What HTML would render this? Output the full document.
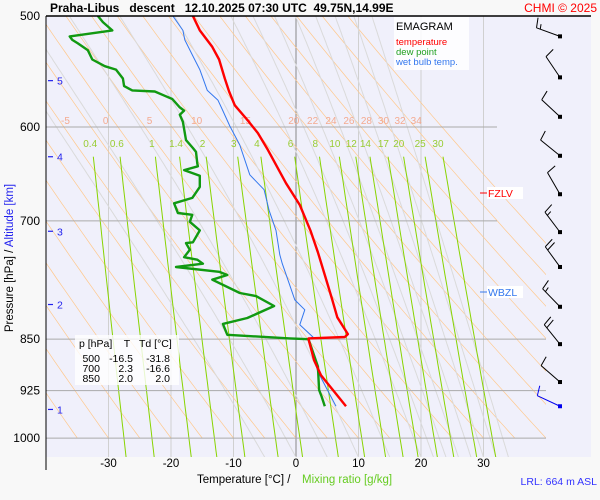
<!DOCTYPE html>
<html><head><meta charset="utf-8"><style>
html,body{margin:0;padding:0;background:#f8f8f8;}
svg{display:block;font-family:"Liberation Sans",sans-serif;}
</style></head><body>
<svg id="chart" width="600" height="500" viewBox="0 0 600 500" xmlns="http://www.w3.org/2000/svg">
<rect x="0" y="0" width="600" height="500" fill="#f8f8f8"/>
<rect x="46" y="16" width="545" height="441" fill="#f0f0fb"/>
<defs><clipPath id="clip"><rect x="46" y="16" width="500" height="441"/></clipPath></defs>
<g id="grid" clip-path="url(#clip)"></g>
<g id="isobars"></g>
<g id="labels"></g>
<g id="series" clip-path="url(#clip)"></g>
<g id="barbs"></g>
<g id="axes"></g>
<line x1="46" y1="16" x2="591" y2="16" stroke="#000" stroke-width="1.5"/>
<line x1="46" y1="16" x2="46" y2="470" stroke="#000" stroke-width="1"/>
<text x="50" y="12" font-size="12" font-weight="bold" fill="#000" xml:space="preserve">Praha-Libus   descent   12.10.2025 07:30 UTC  49.75N,14.99E</text>
<text x="597" y="12" font-size="12" fill="#ff0000" text-anchor="end">CHMI © 2025</text>
<rect x="394" y="17" width="75" height="53" fill="#ffffff" opacity="0.85"/>
<text x="396" y="30" font-size="11" fill="#000">EMAGRAM</text>
<text x="396" y="45" font-size="9.5" fill="#ff0000">temperature</text>
<text x="396" y="55" font-size="9.5" fill="#22a022">dew point</text>
<text x="396" y="65" font-size="9.5" fill="#3377ee">wet bulb temp.</text>
<rect x="75" y="335" width="104" height="50" fill="#ffffff" opacity="0.8"/>
<g font-size="10.5" fill="#000">
<text x="79" y="347">p [hPa]</text><text x="127" y="347" text-anchor="middle">T</text><text x="139" y="347">Td [°C]</text>
<text x="100" y="362" text-anchor="end">500</text><text x="133" y="362" text-anchor="end">-16.5</text><text x="170" y="362" text-anchor="end">-31.8</text>
<text x="100" y="372" text-anchor="end">700</text><text x="133" y="372" text-anchor="end">2.3</text><text x="170" y="372" text-anchor="end">-16.6</text>
<text x="100" y="382" text-anchor="end">850</text><text x="133" y="382" text-anchor="end">2.0</text><text x="170" y="382" text-anchor="end">2.0</text>
</g>
<line x1="480" y1="193" x2="487" y2="193" stroke="#ff0000"/>
<rect x="487" y="187" width="36" height="12" fill="#fff"/>
<text x="488" y="197" font-size="10.5" fill="#ff0000">FZLV</text>
<line x1="480" y1="292" x2="487" y2="292" stroke="#3377ee"/>
<rect x="487" y="286" width="36" height="12" fill="#fff"/>
<text x="488" y="296" font-size="10.5" fill="#3377ee">WBZL</text>
<text transform="translate(13,258) rotate(-90)" font-size="11.5" text-anchor="middle"><tspan fill="#000">Pressure [hPa]  /  </tspan><tspan fill="#2222ee">Altitude [km]</tspan></text>
<text x="197" y="483" font-size="11.5" fill="#000">Temperature [°C]  /</text>
<text x="302" y="483" font-size="11.5" fill="#66cc22">Mixing ratio [g/kg]</text>
<text x="597" y="485" font-size="10.5" fill="#3333ff" text-anchor="end">LRL: 664 m ASL</text>
</svg>
<script>
const tempP = [500,512,526,537,554,566,579,593,606,623,658,682,711,737,765,797,820,843,847,849,850,880,902,924,949];
const tempT = [-16.5,-15.4,-13.4,-12.3,-11.4,-10.7,-9.8,-7.8,-6.1,-4.5,-1.6,0.6,2.3,3.5,4.6,5.8,6.6,8.3,7.8,2.0,2.0,2.9,4.0,5.9,8.0];
const dewP = [500,505,512,517,520,523,529,537,543,546,554,561,565,566,570,573,581,584,588,595,613,621,625,637,640,644,650,662,674,680,691,693,701,711,725,726,734,743,746,751,755,761,765,771,788,792,805,821,829,844,849,850,889,924,934,949];
const dewT = [-31.7,-30.9,-29.4,-36.2,-35.8,-34.9,-33.3,-32.6,-30.6,-28.8,-27.7,-27.5,-26.2,-22.6,-21.0,-19.8,-18.6,-17.9,-18.6,-18.1,-17.6,-16.5,-16.0,-15.8,-15.7,-17.9,-15.4,-15.4,-16.6,-19.5,-18.9,-16.6,-17.0,-15.4,-16.5,-17.6,-17.0,-17.9,-15.8,-14.9,-19.2,-12.3,-11.0,-13.4,-9.0,-6.4,-3.5,-7.8,-11.7,-11.0,-1.0,2.0,3.5,3.7,4.1,4.6];
const wbP = [500,512,520,533,546,565,574,583,599,618,649,665,688,711,740,751,778,797,810,830,847,850,897,949];
const wbT = [-19.7,-18.1,-17.8,-16.6,-15.4,-14.2,-12.5,-11.8,-10.6,-9.0,-7.4,-5.1,-4.3,-3.2,-2.6,-2.2,-1.0,-0.2,1.4,0.6,2.7,2.0,3.5,6.4];
const windP = [517,553,590,629,670,713,755,806,857,912,949];
const windDir = [290,326,313,309,330,323,324,316,321,311,295];
const windKt = [15,10,10,10,10,15,20,15,20,10,10];
const tempTicks = [-30,-20,-10,0,10,20,30];
const pressTicks = [500,600,700,850,925,1000];
const heightKm = [1,2,3,4,5];
const heightP = [954,803,712,630,556];
const mixRatios = [0.4,0.6,1,1.4,2,3,4,6,8,10,12,14,17,20,25,30];
const moistThetaW = [-5,0,5,10,15,20,22,24,26,28,30,32,34];

const NS='http://www.w3.org/2000/svg';
function X(t){return 296+6.25*t;}
function Y(p){return 16+609*Math.log(p/500);}
function mk(tag,attrs,parent){const e=document.createElementNS(NS,tag);for(const k in attrs)e.setAttribute(k,attrs[k]);parent.appendChild(e);return e;}
const grid=document.getElementById('grid'),series=document.getElementById('series'),axes=document.getElementById('axes'),labels=document.getElementById('labels'),isob=document.getElementById('isobars'),barbs=document.getElementById('barbs');

for(const t of tempTicks){
  const l=mk('line',{x1:X(t),y1:16,x2:X(t),y2:457,stroke:t===0?'#888':'#d0d0d0','stroke-width':1},grid);
  
  
}
for(let th=-80;th<=70;th+=5){
  let pts=[];for(let p=500;p<=1000;p+=10){pts.push(X((th+273.15)*Math.pow(p/1000,0.286)-273.15).toFixed(1)+','+Y(p).toFixed(1));}
  const l=mk('polyline',{points:pts.join(' '),fill:'none',stroke:'#ffc88c','stroke-width':0.7},grid);
  
  
}
function es(t){return 6.112*Math.exp(17.67*t/(t+243.5));}
function moist(tw){let T=tw+273.15,pts=[];for(let p=1032;p>=480;p-=2){const tc=T-273.15;const rs=0.622*es(tc)/(p-es(tc));const num=287*T+2.5e6*rs;const den=1004+2.5e6*2.5e6*rs*0.622/(287*T*T);const dT=num/den/p*2;pts.push([p,tc]);T-=dT;}return pts;}
const moistAt600={};
for(const tw of moistThetaW){
  const m=moist(tw);
  const pts=m.map(a=>X(a[1]).toFixed(1)+','+Y(a[0]).toFixed(1));
  const l=mk('polyline',{points:pts.join(' '),fill:'none',stroke:'#dadada','stroke-width':1},grid);
  
  
  const m6=m.find(a=>a[0]<=600);moistAt600[tw]=m6[1];
}
for(const tw of moistThetaW){
  const t=mk('text',{x:X(moistAt600[tw])+9,y:124,'font-size':10,fill:'#f4aa90','text-anchor':'middle'},labels);
  t.textContent=tw;
  
  
}
function tdw(w,p){const e=w*p/(622+w);const l=Math.log(e/6.112);return 243.5*l/(17.67-l);}
for(const w of mixRatios){
  let pts=[];for(let p=630;p<=1035;p+=15){pts.push(X(tdw(w,p)).toFixed(1)+','+Y(p).toFixed(1));}
  const l=mk('polyline',{points:pts.join(' '),fill:'none',stroke:'#88d400','stroke-width':1},grid);
  
  
  const t=mk('text',{x:X(tdw(w,600)),y:147,'font-size':10,fill:'#99cc33','text-anchor':'middle'},labels);
  t.textContent=w;
  
  
}
for(const p of pressTicks){
  if(p!==500){
    const l=mk('line',{x1:46,y1:Y(p),x2:(p<800?497:546),y2:Y(p),stroke:'#aaaaaa','stroke-width':1},isob);
    
    
  }
  const t=mk('text',{x:40,y:Y(p)+4,'font-size':12,fill:'#000','text-anchor':'end'},axes);
  t.textContent=p;
  
  
}
for(const t of tempTicks){
  const e=mk('text',{x:X(t),y:467,'font-size':11.5,fill:'#000','text-anchor':'middle'},axes);
  e.textContent=t;
  
  
}
heightKm.forEach((k,i)=>{
  const y=Y(heightP[i]);
  const l=mk('line',{x1:48,y1:y,x2:53,y2:y,stroke:'#2222ee','stroke-width':1.2},axes);
  
  
  const t=mk('text',{x:57,y:y+4,'font-size':10.5,fill:'#2222ee'},axes);
  t.textContent=k;
  
  
});
function line(P,T,color,w,name){
  const pts=P.map((p,i)=>X(T[i]).toFixed(1)+','+Y(p).toFixed(1)).join(' ');
  const l=mk('polyline',{points:pts,fill:'none',stroke:color,'stroke-width':w,'stroke-linejoin':'round'},series);
  
  
}
line(wbP,wbT,'#3377ee',1,'wet-bulb-line');
line(dewP,dewT,'#119911',2.4,'dew-point-line');
line(tempP,tempT,'#ff0000',2.4,'temperature-line');
windP.forEach((p,i)=>{
  const x0=560,y0=Y(p),d=windDir[i]*Math.PI/180;
  const ux=Math.sin(d),uy=-Math.cos(d);
  const col=i===windP.length-1?'#0000ee':'#000';
  const g=mk('g',{stroke:col,'stroke-width':1,fill:'none'},barbs);
  
  
  const ex=x0+25*ux,ey=y0+25*uy;
  mk('line',{x1:x0,y1:y0,x2:ex,y2:ey},g);
  mk('rect',{x:x0-2,y:y0-2,width:4,height:4,fill:col,stroke:'none'},g);
  let s=windKt[i],k=0;
  const px=-uy,py=ux;
  while(s>=10){const bx=ex-k*4*ux,by=ey-k*4*uy;mk('line',{x1:bx,y1:by,x2:bx+10*px+2*ux,y2:by+10*py+2*uy},g);s-=10;k++;}
  if(s>=5){const bx=ex-k*4*ux,by=ey-k*4*uy;mk('line',{x1:bx,y1:by,x2:bx+5*px+1*ux,y2:by+5*py+1*uy},g);}
});
</script>
</body></html>
